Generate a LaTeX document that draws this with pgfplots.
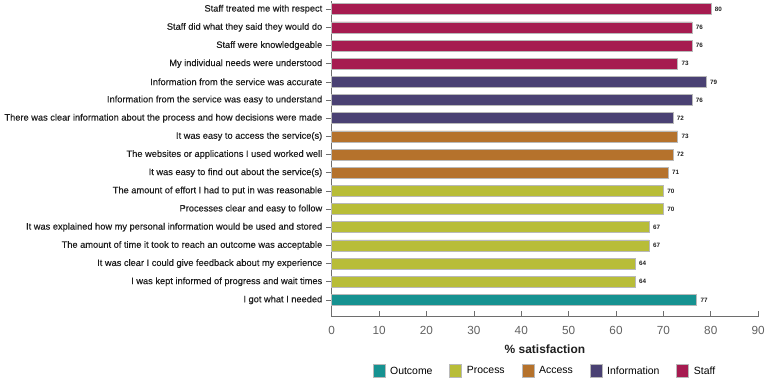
\documentclass[border=0pt]{standalone}
\usepackage{fontspec}
\setmainfont{Liberation Sans}
\newfontfamily\labfont[FakeBold=0.3]{Liberation Sans}
\usepackage{pgfplots}
\pgfplotsset{compat=1.18}
\definecolor{cstaff}{RGB}{166,27,80}
\definecolor{cinfo}{RGB}{74,65,115}
\definecolor{caccess}{RGB}{181,114,44}
\definecolor{cprocess}{RGB}{184,189,56}
\definecolor{coutcome}{RGB}{22,146,145}
\definecolor{axgray}{RGB}{110,110,110}
\definecolor{txt}{RGB}{30,30,30}
\begin{document}
\begin{tikzpicture}
\begin{axis}[
  at={(0,0)}, anchor=south west,
  scale only axis, width=428pt, height=317pt,
  xbar, bar width=11pt, bar shift=0pt,
  xmin=0, xmax=90, ymin=-0.93, ymax=16.45,
  axis x line*=bottom, axis y line*=left,
  axis line style={axgray, line width=0.7pt},
  xtick={0,10,...,90},
  ytick={0,...,16},
  yticklabels={I got what I needed,
    I was kept informed of progress and wait times,
    It was clear I could give feedback about my experience,
    The amount of time it took to reach an outcome was acceptable,
    It was explained how my personal information would be used and stored,
    Processes clear and easy to follow,
    The amount of effort I had to put in was reasonable,
    It was easy to find out about the service(s),
    The websites or applications I used worked well,
    It was easy to access the service(s),
    There was clear information about the process and how decisions were made,
    Information from the service was easy to understand,
    Information from the service was accurate,
    My individual needs were understood,
    Staff were knowledgeable,
    Staff did what they said they would do,
    Staff treated me with respect},
  xtick align=inside, ytick align=outside,
  major tick length=6pt,
  tick style={axgray, line width=0.6pt},
  /pgf/number format/assume math mode=true,
  x tick label style={font=\fontsize{11.8}{12}\selectfont, text=black!62},
  xticklabel shift=6pt,
  y tick label style={font=\labfont\fontsize{9.3}{10}\selectfont, text=txt},
  xlabel={\bfseries\% satisfaction},
  xlabel style={font=\fontsize{12}{13}\selectfont, text=txt, yshift=-3pt},
  every axis plot/.append style={draw=gray!55, line width=0.5pt},
  nodes near coords,
  every node near coord/.append style={font=\fontsize{6.3}{7}\selectfont\bfseries, text=txt, xshift=0.5pt},
  legend style={at={(0.5,-0.172)}, anchor=center, legend columns=5, draw=none,
    font=\fontsize{10.5}{12}\selectfont,
    /tikz/every even column/.append style={column sep=15pt}},
  legend image code/.code={\fill[#1] (0pt,-6.5pt) rectangle (12pt,6.5pt); \path (15pt,0pt);},
  clip=false,
]
\addplot[fill=coutcome, draw=gray!55] coordinates {(77,0)};
\addplot[fill=cprocess, draw=gray!55] coordinates {(64,1) (64,2) (67,3) (67,4) (70,5) (70,6)};
\addplot[fill=caccess, draw=gray!55] coordinates {(71,7) (72,8) (73,9)};
\addplot[fill=cinfo, draw=gray!55] coordinates {(72,10) (76,11) (79,12)};
\addplot[fill=cstaff, draw=gray!55] coordinates {(73,13) (76,14) (76,15) (80,16)};
\legend{Outcome,Process,Access,Information,Staff}
\end{axis}
\path[use as bounding box] (-333pt,-67pt) rectangle (435pt,318pt);
\end{tikzpicture}
\end{document}
